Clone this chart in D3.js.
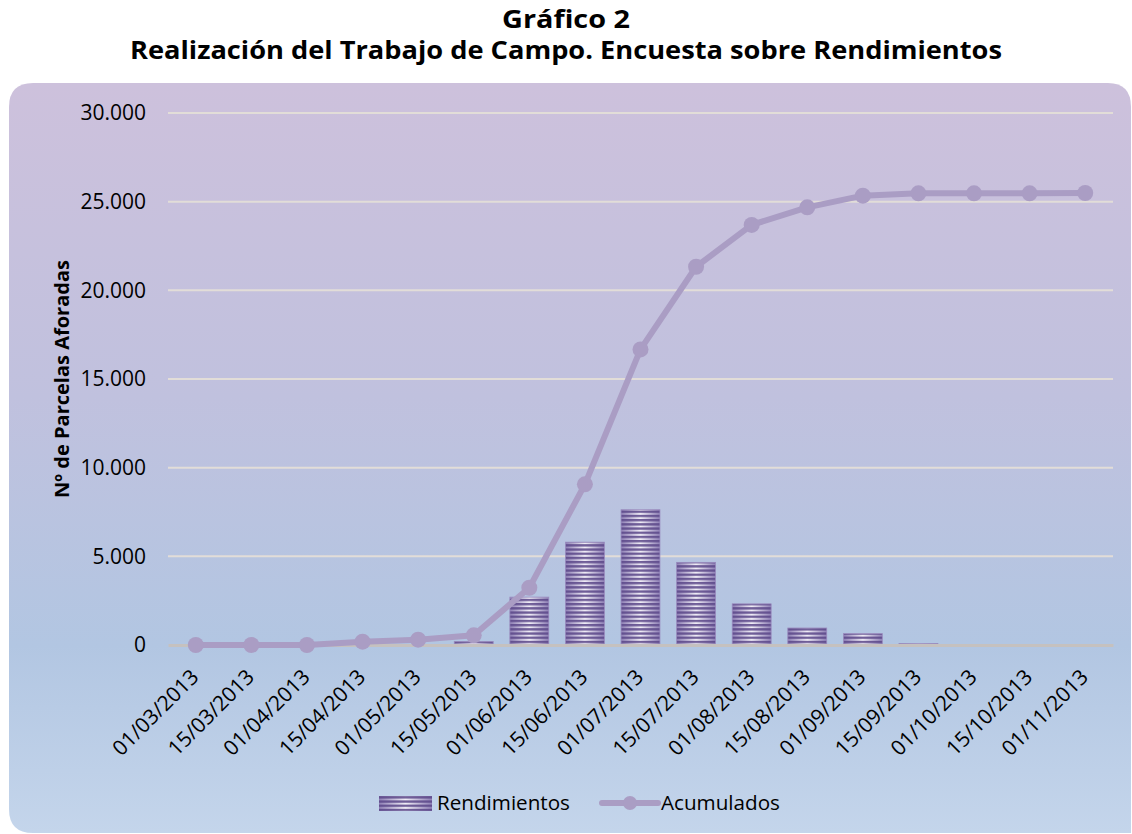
<!DOCTYPE html>
<html>
<head>
<meta charset="utf-8">
<script src="https://cdn.jsdelivr.net/npm/d3@7"></script>
<style>
html,body{margin:0;padding:0;background:#ffffff;}
svg{display:block;}
text{font-family:"Open Sans","DejaVu Sans",sans-serif;fill:#000;}
</style>
</head>
<body>
<svg id="chart" width="1132" height="834"></svg>
<script>
const titleLines = ["Gráfico 2", "Realización del Trabajo de Campo. Encuesta sobre Rendimientos"];
const yAxisTitle = "Nº de Parcelas Aforadas";
const dates = ["01/03/2013","15/03/2013","01/04/2013","15/04/2013","01/05/2013","15/05/2013","01/06/2013","15/06/2013","01/07/2013","15/07/2013","01/08/2013","15/08/2013","01/09/2013","15/09/2013","01/10/2013","15/10/2013","01/11/2013"];
const rendimientos = [0,0,0,0,0,200,2700,5800,7630,4660,2320,960,640,90,0,0,0];
const acumulados = [0,0,0,190,300,545,3230,9060,16670,21330,23690,24680,25340,25470,25470,25470,25490];
const yTicks = [0,5000,10000,15000,20000,25000,30000];
const seriesNames = ["Rendimientos","Acumulados"];

const svg = d3.select("#chart");
const W = 1132, H = 834;
const plot = {left:168, right:1113, top:113, bottom:645};

const defs = svg.append("defs");
const bg = defs.append("linearGradient").attr("id","bg").attr("x1",0).attr("y1",0).attr("x2",0).attr("y2",1);
[[0,"#cdc1dc"],[0.42,"#c0c1de"],[0.75,"#b2c6e2"],[1,"#c4d5eb"]].forEach(s=>bg.append("stop").attr("offset",s[0]).attr("stop-color",s[1]));

const barGrad = defs.append("linearGradient").attr("id","barGrad").attr("x1",0).attr("y1",0).attr("x2",1).attr("y2",0);
[[0,"#8e7fb5"],[0.5,"#f0edf6"],[1,"#8e7fb5"]].forEach(s=>barGrad.append("stop").attr("offset",s[0]).attr("stop-color",s[1]));
const stripes = defs.append("pattern").attr("id","stripes").attr("patternUnits","userSpaceOnUse")
  .attr("width",10).attr("height",4.2).attr("y",plot.bottom);
stripes.append("rect").attr("x",0).attr("y",0).attr("width",10).attr("height",2.3).attr("fill","#5a4688").attr("fill-opacity",0.85);

// Panel
const px=9, py=83, ph=750, r=24;
svg.append("path")
  .attr("d",`M${px},${py+r} Q${px},${py} ${px+r},${py} L${W-r},${py} Q${W-1},${py} ${W-1},${py+r} L${W-1},${py+ph} L${px+r},${py+ph} Q${px},${py+ph} ${px},${py+ph-r} Z`)
  .attr("fill","url(#bg)");

function fit(sel, target){
  const w = sel.node().getComputedTextLength();
  const fs = parseFloat(sel.attr("font-size"));
  sel.attr("font-size", fs*target/w);
}
// Title
svg.append("text").attr("x",566).attr("y",28).attr("text-anchor","middle").attr("font-weight","bold")
  .attr("font-size",24.5).attr("textLength",128).attr("lengthAdjust","spacingAndGlyphs").text(titleLines[0]);
svg.append("text").attr("x",566).attr("y",59).attr("text-anchor","middle").attr("font-weight","bold")
  .attr("font-size",24.5).attr("textLength",872).attr("lengthAdjust","spacingAndGlyphs").text(titleLines[1]);

const x = d3.scaleBand().domain(dates).range([plot.left, plot.right]).paddingInner(0.3).paddingOuter(0.15);
const y = d3.scaleLinear().domain([0,30000]).range([plot.bottom, plot.top]);
const fmt = v => d3.format(",")(v).replace(/,/g,".");

// gridlines
svg.append("g").selectAll("line").data(yTicks.filter(d=>d>0)).join("line")
  .attr("x1",plot.left).attr("x2",plot.right).attr("y1",d=>y(d)).attr("y2",d=>y(d))
  .attr("stroke","#e2ddd8").attr("stroke-width",2);

// y axis labels
const yAxis = d3.axisLeft(y).tickValues(yTicks).tickFormat(fmt).tickSize(0).tickPadding(0);
const gy = svg.append("g").attr("transform",`translate(146,0)`).call(yAxis);
gy.select(".domain").remove();
gy.selectAll("text").attr("font-size",21).attr("font-family","'Open Sans',sans-serif").attr("fill","#000");

// y title
const yt = svg.append("text").attr("transform","translate(69,379) rotate(-90)").attr("text-anchor","middle")
  .attr("font-weight","bold").attr("font-size",17).text(yAxisTitle);
fit(yt,238);

// bars
const bars = svg.append("g");
const bw = x.bandwidth();
bars.selectAll("rect.base").data(dates).join("rect").attr("class","base")
  .attr("x",d=>x(d)).attr("width",bw)
  .attr("y",(d,i)=>y(rendimientos[i])).attr("height",(d,i)=>y(0)-y(rendimientos[i]))
  .attr("fill","url(#barGrad)");
bars.selectAll("rect.str").data(dates).join("rect").attr("class","str")
  .attr("x",d=>x(d)).attr("width",bw)
  .attr("y",(d,i)=>y(rendimientos[i])).attr("height",(d,i)=>y(0)-y(rendimientos[i]))
  .attr("fill","url(#stripes)").attr("stroke","#9a8cbf").attr("stroke-width",0.8);

// x axis
const xAxis = d3.axisBottom(x).tickSize(0).tickPadding(0);
const gx = svg.append("g").attr("transform",`translate(0,${plot.bottom})`).call(xAxis);
gx.select(".domain").attr("stroke","#c5c1bf").attr("stroke-width",3);
gx.selectAll("text").attr("font-size",21).attr("font-family","'Open Sans',sans-serif").attr("fill","#000")
  .attr("text-anchor","end").attr("dy","0.35em").attr("y",0)
  .attr("transform","translate(-1,28) rotate(-45)");

// line
const cx = d => x(d)+bw/2;
const line = d3.line().x((d,i)=>cx(dates[i])).y(d=>y(d));
svg.append("path").datum(acumulados).attr("d",line).attr("fill","none")
  .attr("stroke","#aa9dc4").attr("stroke-width",6).attr("stroke-linejoin","round");
svg.append("g").selectAll("circle").data(acumulados).join("circle")
  .attr("cx",(d,i)=>cx(dates[i])).attr("cy",d=>y(d)).attr("r",8).attr("fill","#aa9dc4");

// legend
const lg = svg.append("g");
lg.append("rect").attr("x",379).attr("y",796).attr("width",53).attr("height",15).attr("fill","url(#barGrad)");
lg.append("rect").attr("x",379).attr("y",796).attr("width",53).attr("height",15).attr("fill","url(#stripes)");
const l1 = lg.append("text").attr("x",437).attr("y",810).attr("font-size",20).text(seriesNames[0]);
fit(l1,133);
lg.append("line").attr("x1",602).attr("x2",658).attr("y1",803).attr("y2",803).attr("stroke","#aa9dc4").attr("stroke-width",6).attr("stroke-linecap","round");
lg.append("circle").attr("cx",630).attr("cy",803).attr("r",7).attr("fill","#aa9dc4");
const l2 = lg.append("text").attr("x",661).attr("y",810).attr("font-size",20).text(seriesNames[1]);
fit(l2,119);
</script>
</body>
</html>
